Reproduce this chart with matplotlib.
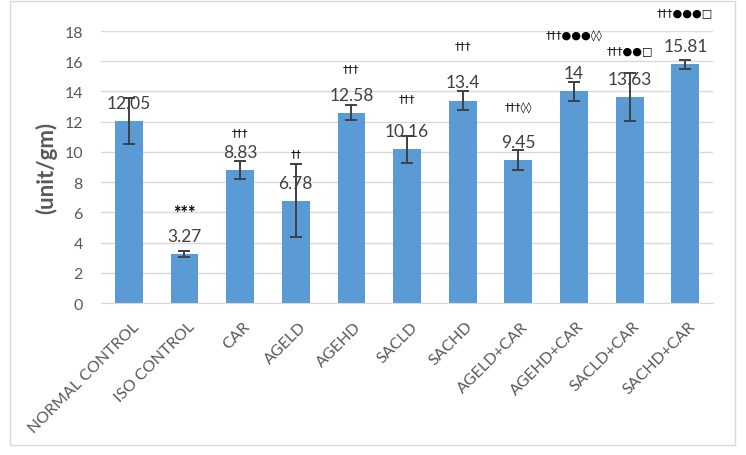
import matplotlib.pyplot as plt
import matplotlib.transforms as mtrans
from matplotlib.patches import Rectangle

plt.rcParams['font.family'] = ['Lato', 'DejaVu Sans']

groups = ["NORMAL CONTROL", "ISO CONTROL", "CAR", "AGELD", "AGEHD", "SACLD",
          "SACHD", "AGELD+CAR", "AGEHD+CAR", "SACLD+CAR", "SACHD+CAR"]
means = [12.05, 3.27, 8.83, 6.78, 12.58, 10.16, 13.4, 9.45, 14, 13.63, 15.81]
errs = [1.55, 0.2, 0.6, 2.4, 0.5, 0.9, 0.6, 0.68, 0.6, 1.58, 0.3]
value_labels = ["12.05", "3.27", "8.83", "6.78", "12.58", "10.16", "13.4",
                "9.45", "14", "13.63", "15.81"]
# significance marks and their heights
marks = ["", "***", "†††", "††", "†††", "†††", "†††", "†††◊◊",
         "†††●●●◊◊", "†††●●□", "†††●●●□"]
mark_y = [0, 6.0, 11.3, 9.9, 15.55, 13.55, 17.07, 12.97, 17.74, 16.74, 19.26]

bar_color = "#5B9BD5"
dark = "#404040"
grey = "#595959"

fig = plt.figure(figsize=(7.46, 4.56), dpi=100)
ax = fig.add_axes([0.1354, 0.3333, 0.8206, 0.5965])

x = range(len(groups))
ax.bar(x, means, width=0.5, color=bar_color, zorder=2)
ax.errorbar(x, means, yerr=errs, fmt='none', ecolor=dark, elinewidth=1.4,
            capsize=4, capthick=1.4, zorder=3)

for i in x:
    ax.annotate(value_labels[i], (i, means[i]), xytext=(0, 13), textcoords='offset points',
                ha='center', va='center', fontsize=12.5, color=dark, zorder=4)
    if marks[i] == "***":
        ax.text(i, mark_y[i], marks[i], ha='center', va='center', fontsize=13,
                fontweight='bold', color='black', clip_on=False)
    elif marks[i]:
        ax.text(i, mark_y[i], marks[i], ha='center', va='center', fontsize=8,
                color='black', clip_on=False, family=['DejaVu Sans'])

ax.set_ylim(0, 18)
ax.set_xlim(-0.5, len(groups) - 0.5)
ax.set_yticks(range(0, 19, 2))
ax.yaxis.grid(True, color="#D9D9D9", linewidth=1)
ax.set_axisbelow(True)
for s in ["top", "right", "left"]:
    ax.spines[s].set_visible(False)
ax.spines["bottom"].set_color("#D9D9D9")
ax.tick_params(axis='both', length=0, colors=grey, labelsize=11.5)
ax.tick_params(axis='y', pad=13)

ax.set_xticks(list(x))
ax.set_xticklabels(groups, rotation=45, ha='right', va='center', rotation_mode='anchor')
offset = mtrans.ScaledTranslation(0.08, -0.16, fig.dpi_scale_trans)
for lab in ax.get_xticklabels():
    lab.set_transform(lab.get_transform() + offset)

ax.set_ylabel("(unit/gm)", fontsize=16, fontweight='bold', color=grey)
ax.yaxis.set_label_coords(-0.072, 0.5)

fig.patches.append(Rectangle((10 / 746, 10 / 456), 725 / 746, 444 / 456, transform=fig.transFigure,
                             fill=False, edgecolor="#D9D9D9", linewidth=1))

fig.savefig("out.png", dpi=100)
